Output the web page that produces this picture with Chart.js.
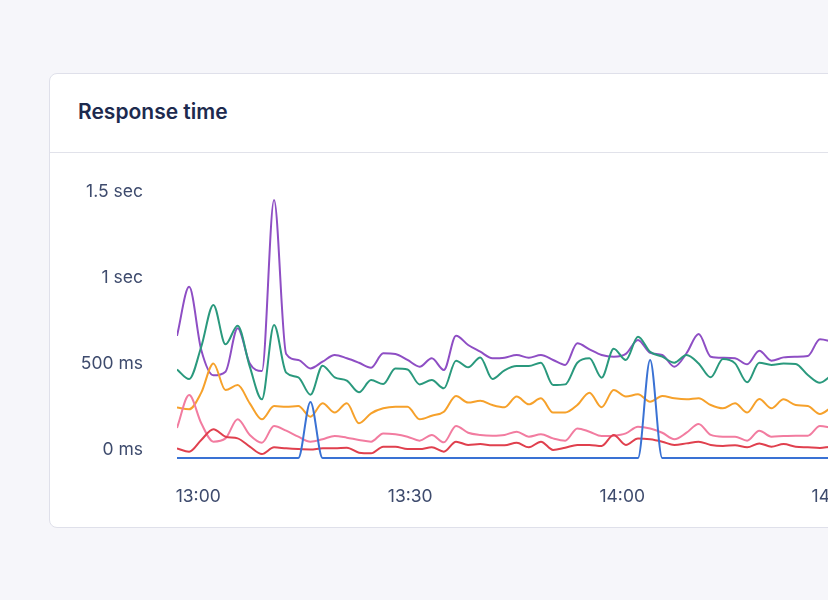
<!DOCTYPE html>
<html>
<head>
<meta charset="utf-8">
<script src="https://cdn.jsdelivr.net/npm/chart.js@4.4.1/dist/chart.umd.min.js"></script>
<style>
  html, body { margin: 0; padding: 0; width: 828px; height: 600px; overflow: hidden; background: #f6f6fa; }
  .card { position: absolute; left: 49px; top: 73px; width: 1000px; height: 455px; box-sizing: border-box;
          background: #ffffff; border: 1px solid #dfe0ea; border-radius: 8px; }
  .head { position: absolute; left: 0; top: 0; right: 0; height: 78px; border-bottom: 1px solid #e1e2ea; }
  .title { position: absolute; left: 28px; top: 25px; line-height: 24px; font: 600 21px Inter, "Noto Sans", sans-serif;
           color: #1d2a4e; }
  #c { position: absolute; left: 10px; top: 86px; }
</style>
</head>
<body>
<div class="card">
  <div class="head"><div class="title">Response time</div></div>
  <canvas id="c" width="800" height="345"></canvas>
</div>
<script>
// sample timing (seconds relative to 13:00)
const sampleStart = -180;   // 12:57:00
const sampleStep = 103;

// series values in ms, one per sample
const purple = [710,995,628,481,502,754,550,506,1500,605,570,521,560,599,580,554,525,609,605,570,531,580,512,711,657,618,580,583,599,583,599,570,541,667,632,599,589,605,686,612,599,531,609,721,589,583,580,545,624,566,585,589,593,690,676,660];
const green  = [515,459,647,890,661,769,531,341,773,496,469,368,537,469,450,382,453,430,521,515,428,453,405,566,527,585,459,510,535,535,554,424,428,554,580,467,635,570,705,618,589,554,599,550,469,575,550,440,554,541,550,547,483,438,483,520];
const orange = [293,283,380,550,395,424,318,225,302,298,302,240,318,264,318,202,260,289,298,298,225,246,269,360,322,333,308,295,357,312,347,264,264,308,380,295,395,357,370,327,360,347,341,347,308,289,318,264,343,289,341,308,302,256,295,310];
const pink   = [175,366,202,95,114,225,134,89,186,159,124,95,109,128,118,105,95,143,138,124,101,134,91,186,147,134,130,134,153,124,138,114,101,172,153,128,130,143,182,172,147,109,147,198,134,124,124,101,159,124,128,130,130,186,176,170];
const red    = [56,37,105,167,124,114,66,23,62,56,52,50,56,56,60,31,27,66,66,52,52,62,37,95,76,81,74,74,89,62,95,47,60,76,76,70,134,76,114,109,95,76,85,95,76,70,74,62,85,66,81,66,62,58,66,66];
const blue   = [0,0,0,0,0,0,0,0,0,0,0,326,0,0,0,0,0,0,0,0,0,0,0,0,0,0,0,0,0,0,0,0,0,0,0,0,0,0,0,570,0,0,0,0,0,0,0,0,0,0,0,0,0,0,0,0];

// axis ticks
const xTickValues = [0, 1800, 3600, 5400];
const xTickLabels = ['13:00', '13:30', '14:00', '14:30'];
const yTickValues = [0, 500, 1000, 1500];
const yTickLabels = ['0 ms', '500 ms', '1 sec', '1.5 sec'];

const times = purple.map((_, i) => sampleStart + i * sampleStep);
const pts = arr => arr.map((v, i) => ({ x: times[i], y: v }));

const tickColor = '#3e4b6d';
const tickFont = { family: 'Inter, "Noto Sans", sans-serif', size: 17.5 };

const ds = (data, color) => ({ data: pts(data), borderColor: color, backgroundColor: color,
  borderWidth: 2, pointRadius: 0, fill: false, cubicInterpolationMode: 'monotone',
  clip: { left: 0, right: 0, top: 3, bottom: 3 } });

new Chart(document.getElementById('c'), {
  type: 'line',
  data: {
    datasets: [
      ds(blue, '#3a72d4'),
      ds(red, '#e0404e'),
      ds(pink, '#f27ca0'),
      ds(orange, '#f6a12b'),
      ds(green, '#2a997d'),
      ds(purple, '#8e4ec4')
    ]
  },
  options: {
    responsive: false,
    animation: false,
    events: [],
    layout: { padding: { top: 40, left: 0, right: 0, bottom: 0 } },
    plugins: { legend: { display: false }, tooltip: { enabled: false } },
    scales: {
      x: {
        type: 'linear',
        min: sampleStart,
        max: sampleStart + 683 * 1800 / 212,
        grid: { display: false, drawTicks: false },
        border: { display: false },
        afterBuildTicks: s => { s.ticks = xTickValues.map(v => ({ value: v })); },
        afterFit: s => { s.height = 47; s.paddingLeft = 0; s.paddingRight = 0; s.paddingTop = 0; s.paddingBottom = 0; },
        ticks: { autoSkip: false, maxRotation: 0, minRotation: 0, padding: 28, color: tickColor, font: tickFont,
                 callback: (v, i) => xTickLabels[i] }
      },
      y: {
        type: 'linear',
        min: 0,
        max: 1500,
        grid: { display: false, drawTicks: false },
        border: { display: false },
        afterBuildTicks: s => { s.ticks = yTickValues.map(v => ({ value: v })); },
        afterFit: s => { s.width = 117; s.paddingTop = 0; s.paddingBottom = 0; s.paddingLeft = 0; s.paddingRight = 0; },
        ticks: { padding: 34, labelOffset: -8, color: tickColor, font: tickFont,
                 callback: (v, i) => yTickLabels[i] }
      }
    }
  }
});
</script>
</body>
</html>
